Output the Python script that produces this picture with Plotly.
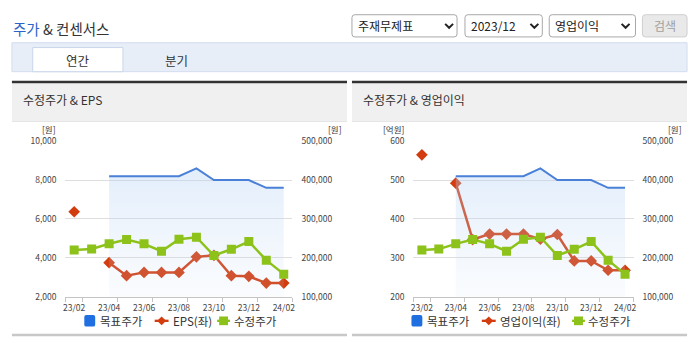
import plotly.graph_objects as go

W, H = 695, 349
FONT = "Noto Sans CJK KR"

# ---------------- data ----------------
months = ["23/02", "23/03", "23/04", "23/05", "23/06", "23/07", "23/08",
          "23/09", "23/10", "23/11", "23/12", "24/01", "24/02"]
tick_labels = ["23/02", "23/04", "23/06", "23/08", "23/10", "23/12", "24/02"]
target_price = [None, None, 410000, 410000, 410000, 410000, 410000,
                430000, 400000, 400000, 400000, 380000, 380000]
adj_price = [220000, 222500, 236000, 247000, 236000, 217000, 248000,
             253000, 206000, 222000, 242000, 194000, 158000]
eps = [6370, None, 3750, 3080, 3250, 3250, 3250, 4050, 4130, 3080, 3050, 2700, 2700]
op_profit = [565, None, 492, 347, 361, 361, 361, 348, 360, 292, 292, 268, 268]

xi = list(range(len(months)))
tickvals = [months.index(t) for t in tick_labels]
minor_vals = [-0.5, 0.5, 2.5, 4.5, 6.5, 8.5, 10.5, 12.5]

BLUE_LINE = "#4a80d8"
RED = "#d23c0f"
GREEN = "#8cc21a"
LEG_BLUE = "#1f6fe0"


def X(p):
    return p / W


def Y(p):
    return 1 - p / H


fig = go.Figure()

grad = dict(type="vertical",
            colorscale=[[0, "rgba(200,220,245,0.08)"], [1, "rgba(180,210,245,0.38)"]],
            start=100000, stop=430000)

# left chart
fig.add_trace(go.Scatter(x=xi, y=target_price, xaxis="x", yaxis="y2", mode="lines",
                         line=dict(color=BLUE_LINE, width=2), fill="tozeroy",
                         fillgradient=grad, name="목표주가"))
fig.add_trace(go.Scatter(x=xi, y=eps, xaxis="x", yaxis="y", mode="lines+markers",
                         line=dict(color=RED, width=2.5),
                         marker=dict(symbol="diamond", size=9, color=RED), name="EPS(좌)"))
fig.add_trace(go.Scatter(x=xi, y=adj_price, xaxis="x", yaxis="y2", mode="lines+markers",
                         line=dict(color=GREEN, width=2.5),
                         marker=dict(symbol="square", size=9, color=GREEN), name="수정주가"))
# right chart
fig.add_trace(go.Scatter(x=xi, y=target_price, xaxis="x2", yaxis="y4", mode="lines",
                         line=dict(color=BLUE_LINE, width=2), fill="tozeroy",
                         fillgradient=grad, name="목표주가"))
fig.add_trace(go.Scatter(x=xi, y=op_profit, xaxis="x2", yaxis="y3", mode="lines+markers",
                         line=dict(color=RED, width=2.5),
                         marker=dict(symbol="diamond", size=9, color=RED), name="영업이익(좌)"))
fig.add_trace(go.Scatter(x=xi, y=adj_price, xaxis="x2", yaxis="y4", mode="lines+markers",
                         line=dict(color=GREEN, width=2.5),
                         marker=dict(symbol="square", size=9, color=GREEN), name="수정주가"))

tickfont = dict(family=FONT, size=8.5, color="#444")
ydom = [Y(300), Y(139)]


def xaxis(dom):
    return dict(domain=dom, range=[-0.5, 12.5], tickmode="array", tickvals=tickvals,
                ticktext=tick_labels, ticks="", showgrid=False, zeroline=False,
                showline=True, linecolor="#c4c4c4", linewidth=1, tickfont=tickfont,
                ticklabelstandoff=3, fixedrange=True,
                minor=dict(tickmode="array", tickvals=minor_vals, ticks="outside",
                           ticklen=4, tickcolor="#c4c4c4", showgrid=False))


def yleft(anchor, rng, dtick, fmt):
    return dict(domain=ydom, anchor=anchor, range=rng, dtick=dtick, tickformat=fmt,
                showgrid=True, gridcolor="#dedede", gridwidth=1, zeroline=False,
                showline=False, ticks="", tickfont=tickfont, ticklabelstandoff=8)


def yright(anchor, over):
    return dict(domain=ydom, anchor=anchor, overlaying=over, side="right",
                range=[100000, 500000], dtick=100000, tickformat=",", showgrid=False,
                zeroline=False, showline=False, ticks="", tickfont=tickfont,
                ticklabelstandoff=8)


shapes = []
ann = []


def rect(x0, y0, x1, y1, fill, line=None, lw=0):
    shapes.append(dict(type="rect", xref="paper", yref="paper", x0=X(x0), x1=X(x1),
                       y0=Y(y1), y1=Y(y0), fillcolor=fill,
                       line=dict(color=line or fill, width=lw)))


def path(d, fill=None, line=None, lw=0):
    s = dict(type="path", xref="paper", yref="paper", path=d,
             line=dict(color=line or "rgba(0,0,0,0)", width=lw))
    if fill:
        s["fillcolor"] = fill
    shapes.append(s)


def P(x, y):
    return f"{X(x):.5f},{Y(y):.5f}"


def rrect(x0, y0, x1, y1, r, fill, line, lw=1):
    d = (f"M{P(x0 + r, y0)} L{P(x1 - r, y0)} Q{P(x1, y0)} {P(x1, y0 + r)} "
         f"L{P(x1, y1 - r)} Q{P(x1, y1)} {P(x1 - r, y1)} L{P(x0 + r, y1)} "
         f"Q{P(x0, y1)} {P(x0, y1 - r)} L{P(x0, y0 + r)} Q{P(x0, y0)} {P(x0 + r, y0)} Z")
    path(d, fill=fill, line=line, lw=lw)


def text(x, y, s, size, color="#333", xanchor="left", pad=1):
    ann.append(dict(x=X(x), y=Y(y), xref="paper", yref="paper", text=s, showarrow=False,
                    xanchor=xanchor, yanchor="middle", borderpad=pad,
                    font=dict(family=FONT, size=size, color=color)))


# header title
text(8, 22.5, "<span style='color:#2a64c8'>주가</span> & 컨센서스", 14.5, "#333")

# dropdowns
for (x0, x1, label, chev) in [(352, 458, "주재무제표", 450), (466, 544, "2023/12", 536),
                              (551, 638, "영업이익", 628)]:
    rrect(x0, 8, x1, 31, 3, "#ffffff", "#a8a8a8", 1)
    text(x0 + 4, 19.5, label, 12, "#222")
    path(f"M{P(chev - 4, 17.5)} L{P(chev, 21.5)} L{P(chev + 4, 17.5)}", line="#222", lw=2)
rrect(645, 8, 690, 31, 3, "#e9e9e9", "#cfcfcf", 1)
text(667.5, 19.5, "검색", 12, "#a0a0a0", xanchor="center")

# tab bar
rect(9, 37, 690, 67, "#e8eef8", "#d3ddef", 1)
rect(30, 42, 121, 67, "#ffffff", "#c9d5ea", 1)
text(75.5, 55, "연간", 12.5, "#333", xanchor="center")
text(175.5, 55, "분기", 12.5, "#333", xanchor="center")

# panel headers
for (x0, x1, title, tx) in [(9, 347, "수정주가 & EPS", 18), (352, 690, "수정주가 & 영업이익", 361)]:
    rect(x0, 79, x1, 118, "#f0f0f0")
    rect(x0, 118, x1, 118.8, "#dcdcdc")
    rect(x0, 76.5, x1, 79, "#333333")
    text(tx, 95.5, title, 12, "#333")
    rect(x0, 338.5, x1, 341, "#c8c8c8")

# unit labels
for (ux, ut) in [(46.5, "[원]"), (335, "[원]"), (394, "[억원]"), (678, "[원]")]:
    text(ux, 126.5, ut, 8.5, "#333", xanchor="center", pad=0)


# legends
def legend(items, cy=325):
    for kind, x0, label, tx in items:
        if kind == "blue":
            rrect(x0, cy - 6, x0 + 11, cy + 6, 2, LEG_BLUE, LEG_BLUE, 0)
        elif kind == "red":
            cx = x0 + 7
            rect(x0, cy - 1.2, x0 + 14, cy + 1.2, RED)
            path(f"M{P(cx, cy - 4.5)} L{P(cx + 4.5, cy)} L{P(cx, cy + 4.5)} L{P(cx - 4.5, cy)} Z",
                 fill=RED)
        else:
            cx = x0 + 6.5
            rect(x0, cy - 1.2, x0 + 13, cy + 1.2, GREEN)
            rect(cx - 4.5, cy - 4.5, cx + 4.5, cy + 4.5, GREEN)
        text(tx, cy, label, 11.5, "#333", pad=0)


legend([("blue", 82, "목표주가", 97), ("red", 153, "EPS(좌)", 170), ("green", 216, "수정주가", 232)])
legend([("blue", 412, "목표주가", 427), ("red", 483, "영업이익(좌)", 500), ("green", 574, "수정주가", 589)])

fig.update_layout(
    width=W, height=H, margin=dict(l=0, r=0, t=0, b=0),
    paper_bgcolor="#ffffff", plot_bgcolor="#ffffff",
    showlegend=False, hovermode=False,
    font=dict(family=FONT, color="#333"),
    xaxis=dict(xaxis([X(63), X(292)]), anchor="y"),
    yaxis=yleft("x", [2000, 10000], 2000, ","),
    yaxis2=yright("x", "y"),
    xaxis2=dict(xaxis([X(414), X(636)]), anchor="y3"),
    yaxis3=yleft("x2", [200, 600], 100, "d"),
    yaxis4=yright("x2", "y3"),
    shapes=shapes, annotations=ann,
)

fig.write_html("out.html", config={"displayModeBar": False})
